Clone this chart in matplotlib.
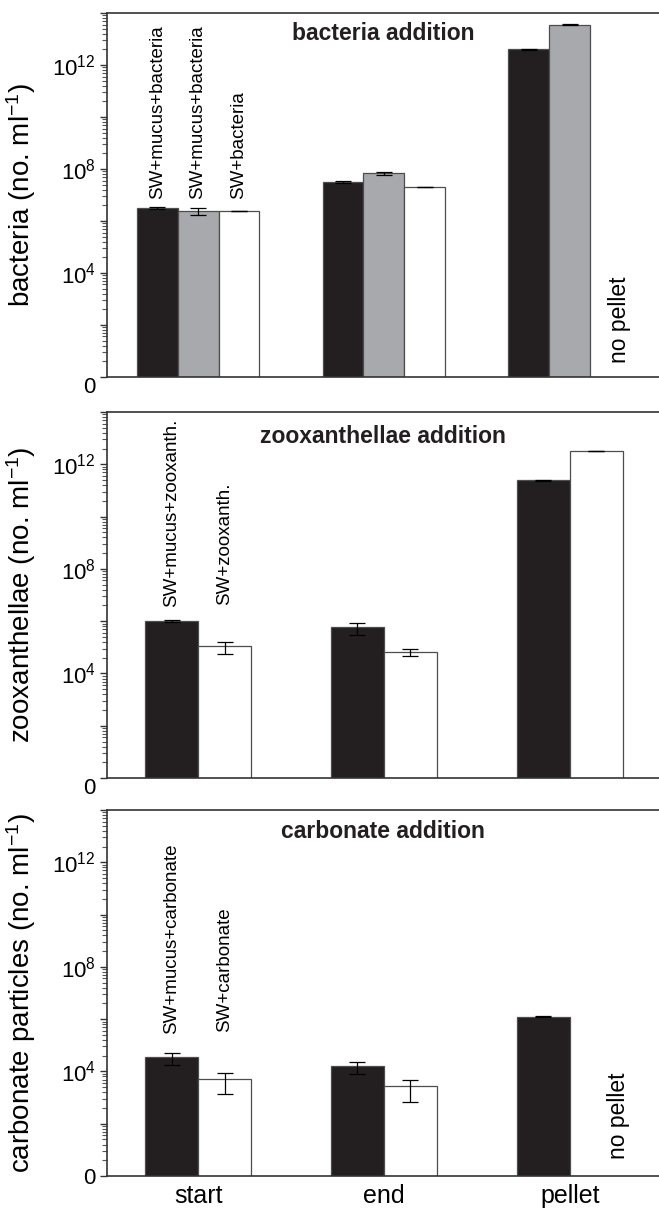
import numpy as np
import matplotlib
matplotlib.use('Agg')
import matplotlib.pyplot as plt
from matplotlib.ticker import FixedLocator, NullFormatter

plt.rcParams['font.family'] = ['Liberation Sans', 'DejaVu Sans']
plt.rcParams['mathtext.fontset'] = 'custom'
plt.rcParams['mathtext.rm'] = 'Liberation Sans'
plt.rcParams['mathtext.it'] = 'Liberation Sans:italic'
plt.rcParams['mathtext.bf'] = 'Liberation Sans:bold'

groups = ['start', 'end', 'pellet']

# bacteria addition (cells per ml); nan = no pellet
bact_mucus = [3.1e6, 3.2e7, 4.0e12]
bact_mucus_err = [2.0e5, 2.5e6, 1.5e11]
bact_mucus_b = [2.4e6, 6.8e7, 3.6e13]
bact_mucus_b_err = [6.5e5, 9.0e6, 1.5e12]
bact_sw = [2.4e6, 2.1e7, np.nan]
bact_sw_err = [0.0, 0.0, 0.0]

# zooxanthellae addition
zoox_mucus = [1.02e6, 5.9e5, 2.45e11]
zoox_mucus_err = [5.0e4, 3.0e5, 1.0e10]
zoox_sw = [1.1e5, 6.6e4, 3.2e12]
zoox_sw_err = [5.3e4, 1.9e4, 1.0e11]

# carbonate addition
carb_mucus = [3.5e4, 1.6e4, 1.24e6]
carb_mucus_err = [1.75e4, 7.8e3, 5.0e4]
carb_sw = [5.2e3, 2.75e3, np.nan]
carb_sw_err = [3.8e3, 2.1e3, 0.0]

BLACK = '#231f20'
GREY = '#a7a9ac'
EDGE = '#4d4d4d'

fig = plt.figure(figsize=(6.59, 12.14), dpi=100)
ax1 = fig.add_axes([0.1624, 0.6895, 0.8376, 0.2998])
ax2 = fig.add_axes([0.1624, 0.3591, 0.8376, 0.3015])
ax3 = fig.add_axes([0.1624, 0.0313, 0.8376, 0.3015])

x = np.arange(len(groups))


def draw_bars(ax, pos, vals, errs, color, w):
    vals = np.array(vals, dtype=float)
    errs = np.array(errs, dtype=float)
    ok = ~np.isnan(vals)
    ax.bar(pos[ok], vals[ok], w, color=color, edgecolor=EDGE, linewidth=0.9,
           yerr=errs[ok], capsize=6,
           error_kw=dict(ecolor='black', elinewidth=0.9, capthick=0.9))


def setup_axis(ax, ylabel, title, title_y, zero_low=True):
    ax.set_yscale('log')
    ax.set_ylim(1, 1e14)
    ax.set_xlim(-0.49, 2.48)
    major = [100.0 ** n for n in range(8)]
    minor = [k * k * 100.0 ** n for n in range(7) for k in range(2, 10)]
    ax.yaxis.set_major_locator(FixedLocator(major))
    ax.yaxis.set_minor_locator(FixedLocator(minor))
    ax.yaxis.set_minor_formatter(NullFormatter())
    labels = ax.set_yticklabels(['0', '', r'$10^{4}$', '', r'$10^{8}$', '', r'$10^{12}$', ''],
                                fontsize=16)
    if zero_low:
        labels[0].set_va('top')
    ax.tick_params(axis='y', which='major', direction='out', length=5, width=1.0,
                   color='#333333', pad=3)
    ax.tick_params(axis='y', which='minor', direction='out', length=3.5, width=0.8,
                   color='#555555')
    ax.tick_params(axis='x', length=0)
    ax.set_xticks(x)
    ax.set_xticklabels([])
    ax.set_ylabel(ylabel, fontsize=20)
    ax.yaxis.set_label_coords(-0.125, 0.5)
    ax.spines['right'].set_visible(False)
    for s in ['left', 'bottom', 'top']:
        ax.spines[s].set_linewidth(1.2)
        ax.spines[s].set_color('#333333')
    ax.text(0.5, title_y, title, transform=ax.transAxes, ha='center', va='center',
            fontsize=16.5, fontweight='bold', color='#231f20')


# bacteria: three bars per group
w3 = 0.22
draw_bars(ax1, x - w3, bact_mucus, bact_mucus_err, BLACK, w3)
draw_bars(ax1, x, bact_mucus_b, bact_mucus_b_err, GREY, w3)
draw_bars(ax1, x + w3, bact_sw, bact_sw_err, 'white', w3)
setup_axis(ax1, r'bacteria (no. ml$^{-1}$)', 'bacteria addition', 0.945)
for xi, lab in zip([-w3, 0, w3], ['SW+mucus+bacteria', 'SW+mucus+bacteria', 'SW+bacteria']):
    ax1.text(xi, 10 ** 6.85, lab, rotation=90, ha='center', va='bottom', fontsize=13.5)
ax1.text(2.27, 10 ** 0.55, 'no pellet', rotation=90, ha='center', va='bottom', fontsize=16.5)

# zooxanthellae: two bars per group
w2 = 0.285
draw_bars(ax2, x - w2 / 2, zoox_mucus, zoox_mucus_err, BLACK, w2)
draw_bars(ax2, x + w2 / 2, zoox_sw, zoox_sw_err, 'white', w2)
setup_axis(ax2, r'zooxanthellae (no. ml$^{-1}$)', 'zooxanthellae addition', 0.932)
ax2.text(-w2 / 2, 10 ** 6.55, 'SW+mucus+zooxanth.', rotation=90, ha='center', va='bottom', fontsize=13.5)
ax2.text(w2 / 2, 10 ** 6.6, 'SW+zooxanth.', rotation=90, ha='center', va='bottom', fontsize=13.5)

# carbonate: two bars per group
draw_bars(ax3, x - w2 / 2, carb_mucus, carb_mucus_err, BLACK, w2)
draw_bars(ax3, x + w2 / 2, carb_sw, carb_sw_err, 'white', w2)
setup_axis(ax3, r'carbonate particles (no. ml$^{-1}$)', 'carbonate addition', 0.94, zero_low=False)
ax3.text(-w2 / 2, 10 ** 5.45, 'SW+mucus+carbonate', rotation=90, ha='center', va='bottom', fontsize=13.5)
ax3.text(w2 / 2, 10 ** 5.5, 'SW+carbonate', rotation=90, ha='center', va='bottom', fontsize=13.5)
ax3.text(2.26, 10 ** 0.65, 'no pellet', rotation=90, ha='center', va='bottom', fontsize=16.5)
ax3.set_xticklabels(groups, fontsize=18)
ax3.tick_params(axis='x', pad=6)

plt.savefig('out.png', dpi=100)
